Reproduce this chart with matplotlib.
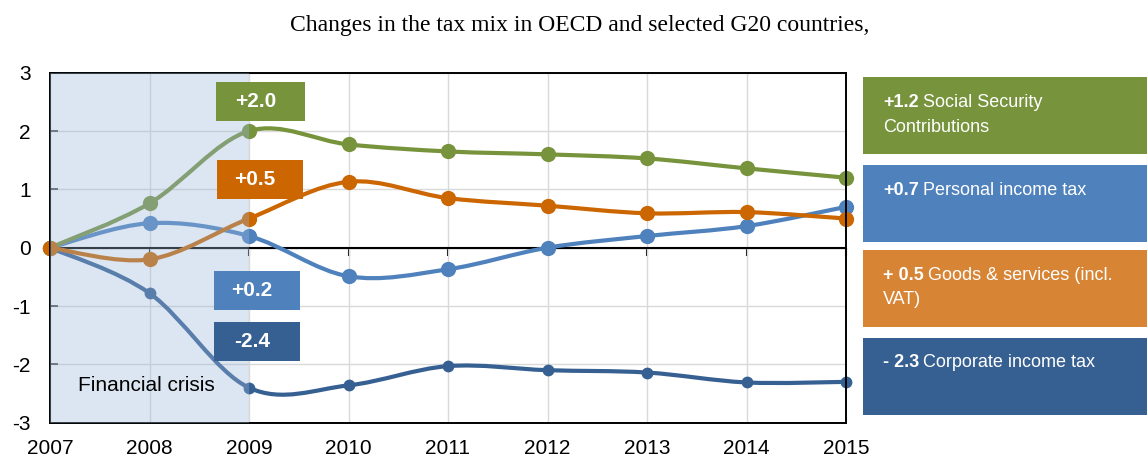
import matplotlib.pyplot as plt
import numpy as np
from matplotlib.path import Path
from matplotlib.patches import PathPatch, Rectangle

years = [2007, 2008, 2009, 2010, 2011, 2012, 2013, 2014, 2015]
social_security = [0.0, 0.76, 2.0, 1.77, 1.65, 1.60, 1.53, 1.36, 1.2]
personal_income = [0.0, 0.42, 0.2, -0.49, -0.37, 0.0, 0.2, 0.37, 0.7]
goods_services = [0.0, -0.2, 0.5, 1.13, 0.85, 0.72, 0.59, 0.61, 0.5]
corporate_income = [0.0, -0.78, -2.4, -2.36, -2.03, -2.10, -2.14, -2.31, -2.3]

legend_values = ["+1.2", "+0.7", "+ 0.5", "- 2.3"]
legend_names = [["Social Security", "Contributions"],
                ["Personal income tax"],
                ["Goods & services (incl.", "VAT)"],
                ["Corporate income tax"]]

GREEN = "#77933C"
LBLUE = "#4F81BD"
ORANGE = "#CC6600"
ORANGE_BOX = "#D78434"
DBLUE = "#376092"

plt.rcParams["font.family"] = ["Liberation Sans", "DejaVu Sans"]
plt.rcParams["axes.unicode_minus"] = False

W, H = 1147, 461
fig = plt.figure(figsize=(W / 100, H / 100), dpi=100)
ax = fig.add_axes([50 / W, 1 - 422.7 / H, (846 - 50) / W, (422.7 - 72.7) / H])


def smooth(xs, ys):
    # excel-style smoothed line: cubic bezier through every point
    p = np.column_stack([xs, ys]).astype(float)
    ext = np.vstack([p[0], p, p[-1]])
    verts, codes = [p[0]], [Path.MOVETO]
    for i in range(len(p) - 1):
        p0, p1, p2, p3 = ext[i], ext[i + 1], ext[i + 2], ext[i + 3]
        verts += [p1 + (p2 - p0) / 6, p2 - (p3 - p1) / 6, p2]
        codes += [Path.CURVE4] * 3
    return Path(verts, codes)


series = [
    (corporate_income, DBLUE, 8.5),
    (personal_income, LBLUE, 11),
    (social_security, GREEN, 11),
    (goods_services, ORANGE, 11),
]
for i, (vals, col, ms) in enumerate(series):
    ax.add_patch(PathPatch(smooth(years, vals), fill=False, ec=col, lw=3,
                           capstyle="round", zorder=2 + i * 0.1))
    ax.plot(years, vals, "o", color=col, ms=ms, mew=0, zorder=2.05 + i * 0.1,
            clip_on=False)

ax.axhline(0, color="black", lw=1.5, zorder=1.5)
ax.axvspan(2007, 2009, color="#9BB8DA", alpha=0.35, lw=0, zorder=5)

ax.set_xlim(2007, 2015)
ax.set_ylim(-3, 3)
ax.set_xticks(years)
ax.set_yticks(range(-3, 4))
ax.grid(color="#D9D9D9", lw=1)
ax.set_axisbelow(True)
ax.tick_params(axis="x", length=0, pad=12, labelsize=15)
ax.tick_params(axis="y", direction="in", length=6, width=1.2, color="#404040",
               pad=14, labelsize=15)
for s in ax.spines.values():
    s.set_linewidth(1.4)

zero_axis = ax.secondary_xaxis(0.5)
zero_axis.set_xticks(years)
zero_axis.tick_params(direction="in", length=6, width=1.5, labelbottom=False,
                      labeltop=False)
zero_axis.spines["bottom"].set_visible(False)

ax.text(2007.28, -2.37, "Financial crisis", fontsize=15, va="center", zorder=6)

# value boxes at 2009
boxes = [
    (f"{social_security[2]:+.1f}", GREEN, 2008.668, 2.18, 2009.565, 2.84),
    (f"{goods_services[2]:+.1f}", ORANGE, 2008.678, 0.84, 2009.54, 1.50),
    (f"{personal_income[2]:+.1f}", LBLUE, 2008.648, -1.06, 2009.512, -0.40),
    (f"{corporate_income[2]:+.1f}", DBLUE, 2008.648, -1.94, 2009.512, -1.27),
]
for txt, col, x0, y0, x1, y1 in boxes:
    ax.add_patch(Rectangle((x0, y0), x1 - x0, y1 - y0, fc=col, lw=0, zorder=6))
    ax.text((x0 + x1) / 2 - 0.05, (y0 + y1) / 2, txt, color="white",
            fontsize=15, fontweight="bold", ha="center", va="center", zorder=7)

# legend panels on the right
panel_cols = [GREEN, LBLUE, ORANGE_BOX, DBLUE]
panel_tops = [77.3, 165, 250, 337.7]
renderer = fig.canvas.get_renderer()
for val, names, col, top in zip(legend_values, legend_names, panel_cols,
                                panel_tops):
    fig.add_artist(Rectangle((863 / W, 1 - (top + 77) / H), (1147 - 863) / W,
                             77 / H, transform=fig.transFigure, fc=col, lw=0))
    base = 1 - (top + 29.5) / H
    t1 = fig.text(883 / W, base, val, color="white", fontsize=13,
                  fontweight="bold", va="baseline")
    x1 = t1.get_window_extent(renderer).x1 + 4
    fig.text(x1 / W, base, names[0], color="white", fontsize=13,
             va="baseline")
    for k, line in enumerate(names[1:], start=1):
        fig.text(883 / W, base - 25 * k / H, line, color="white",
                 fontsize=13, va="baseline")

fig.text(580 / W, 1 - 31.5 / H,
         "Changes in the tax mix in OECD and selected G20 countries,",
         family="Liberation Serif", fontsize=17, ha="center", va="baseline")

fig.savefig("out.png", dpi=100)
